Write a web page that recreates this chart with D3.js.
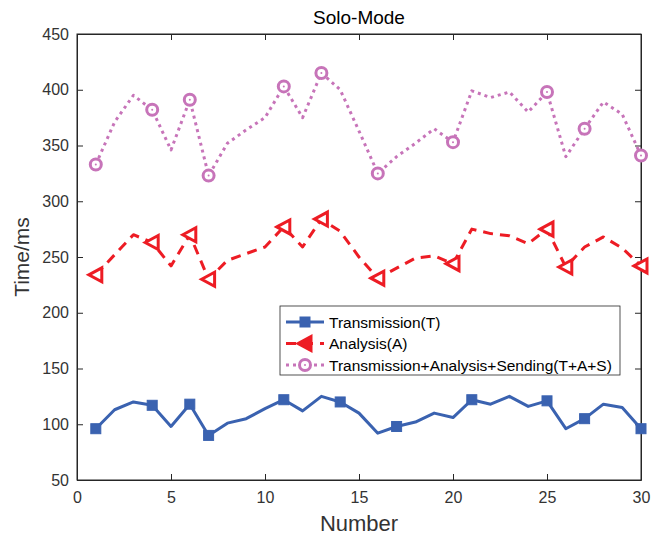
<!DOCTYPE html>
<html>
<head>
<meta charset="utf-8">
<script src="https://cdn.jsdelivr.net/npm/d3@7"></script>
<style>
  body { margin: 0; background: #fff; }
  text { font-family: "Liberation Sans", Arial, sans-serif; }
</style>
</head>
<body>
<svg id="chart" width="657" height="536"></svg>
<script>
// data
var xValues = d3.range(1, 31);
var transmission = [96, 113, 120, 117, 98, 118, 90, 101, 105, 114, 122, 112, 125, 120, 110,
                    92, 98, 102, 110, 106, 122, 118, 125, 116, 121, 96, 105, 118, 115, 96];
var analysis = [234, 252, 270, 263, 242, 270, 230, 247, 253, 259, 277, 259, 284, 273, 250,
                231, 240, 249, 251, 244, 275, 271, 269, 262, 275, 241, 259, 268, 258, 242];
var total = [333, 371, 395, 382, 346, 391, 323, 352, 364, 375, 403, 375, 415, 400, 363,
             325, 340, 352, 365, 353, 399, 393, 398, 380, 398, 340, 365, 389, 378, 341];
var markersT = [1, 4, 6, 7, 11, 14, 17, 21, 25, 27, 30];
var markersA = [1, 4, 6, 7, 11, 13, 16, 20, 25, 26, 30];
var markersS = [1, 4, 6, 7, 11, 13, 16, 20, 25, 27, 30];
var yTicks = [50, 100, 150, 200, 250, 300, 350, 400, 450];
var xTicks = [0, 5, 10, 15, 20, 25, 30];
var legendLabels = ['Transmission(T)', 'Analysis(A)', 'Transmission+Analysis+Sending(T+A+S)'];

var blue = '#3a62b0', red = '#ed1c24', purple = '#c774b9';

var margin = {left: 77, right: 16, top: 34, bottom: 56},
    W = 657, H = 536;

var svg = d3.select('#chart');

var x = d3.scaleLinear().domain([0, 30]).range([margin.left, W - margin.right]);
var y = d3.scaleLinear().domain([50, 450]).range([H - margin.bottom, margin.top]);

// box
svg.append('rect')
   .attr('x', x(0)).attr('y', y(450))
   .attr('width', x(30) - x(0)).attr('height', y(50) - y(450))
   .style('fill', 'none').style('stroke', '#262626').style('stroke-width', 1);

// axes
var xAxis = svg.append('g').attr('transform', 'translate(0,' + y(50) + ')')
   .call(d3.axisBottom(x).tickValues(xTicks).tickSize(-6).tickSizeOuter(0).tickPadding(12));
var xTop = svg.append('g').attr('transform', 'translate(0,' + y(450) + ')')
   .call(d3.axisTop(x).tickValues(xTicks).tickSize(-6).tickSizeOuter(0).tickFormat(''));
var yAxis = svg.append('g').attr('transform', 'translate(' + x(0) + ',0)')
   .call(d3.axisLeft(y).tickValues(yTicks).tickSize(-6).tickSizeOuter(0).tickPadding(8));
var yRight = svg.append('g').attr('transform', 'translate(' + x(30) + ',0)')
   .call(d3.axisRight(y).tickValues(yTicks).tickSize(-6).tickSizeOuter(0).tickFormat(''));

[xAxis, xTop, yAxis, yRight].forEach(function(a){
    a.select('.domain').style('stroke', '#262626');
    a.selectAll('.tick line').style('stroke', '#262626');
    a.selectAll('.tick text').style('font-size', '16px').style('fill', '#333')
     .style('font-family', '"Liberation Sans", Arial, sans-serif');
});

// titles
svg.append('text').attr('x', (x(0) + x(30)) / 2).attr('y', 24)
   .attr('text-anchor', 'middle').style('font-size', '19px').style('fill', '#000').text('Solo-Mode');
svg.append('text').attr('x', (x(0) + x(30)) / 2).attr('y', 531)
   .attr('text-anchor', 'middle').style('font-size', '22px').style('fill', '#333').text('Number');
svg.append('text').attr('transform', 'translate(29,' + ((y(50) + y(450)) / 2) + ') rotate(-90)')
   .attr('text-anchor', 'middle').style('font-size', '21px').style('fill', '#333').text('Time/ms');

var line = d3.line().x(function(d){ return x(d[0]); }).y(function(d){ return y(d[1]); });
var zip = function(vals){ return xValues.map(function(v, i){ return [v, vals[i]]; }); };

var series = [
    {vals: transmission, color: blue, dash: null, marks: markersT, shape: 'square'},
    {vals: analysis, color: red, dash: '10,7', marks: markersA, shape: 'triangle'},
    {vals: total, color: purple, dash: '3,4', marks: markersS, shape: 'circle'}
];

var drawMarker = function(g, shape, color){
    if (shape === 'square') {
        g.append('rect').attr('x', -5).attr('y', -5).attr('width', 10).attr('height', 10)
         .style('fill', color).style('stroke', color).style('stroke-width', 1);
    } else if (shape === 'triangle') {
        g.append('path').attr('d', 'M-7,0L6,-7L6,7Z')
         .style('fill', '#fff').style('stroke', color).style('stroke-width', 3)
         .style('stroke-linejoin', 'miter');
    } else {
        g.append('circle').attr('r', 5.5)
         .style('fill', '#fff').style('stroke', color).style('stroke-width', 3);
        g.append('circle').attr('r', 1).style('fill', color);
    }
};

series.forEach(function(s){
    svg.append('path').datum(zip(s.vals)).attr('d', line)
       .style('fill', 'none').style('stroke', s.color).style('stroke-width', 3)
       .style('stroke-dasharray', s.dash).style('stroke-linejoin', 'round');
    s.marks.forEach(function(m){
        var g = svg.append('g').attr('transform', 'translate(' + x(m) + ',' + y(s.vals[m - 1]) + ')');
        drawMarker(g, s.shape, s.color);
    });
});

// legend
var legend = svg.append('g').attr('transform', 'translate(280,306)');
legend.append('rect').attr('width', 340).attr('height', 69)
      .style('fill', '#fff').style('stroke', '#262626').style('stroke-width', 0.8);
series.forEach(function(s, i){
    var row = legend.append('g').attr('transform', 'translate(0,' + (16 + i * 21.5) + ')');
    row.append('line').attr('x1', 6).attr('x2', 44).attr('y1', 0).attr('y2', 0)
       .style('stroke', s.color).style('stroke-width', 3).style('stroke-dasharray', s.dash);
    var m = row.append('g').attr('transform', 'translate(25,0)');
    drawMarker(m, s.shape, s.color);
    if (s.shape === 'triangle') m.select('path').style('fill', s.color);
    row.append('text').attr('x', 49).attr('y', 5.5).style('font-size', '15.5px').style('fill', '#000')
       .text(legendLabels[i]);
});
</script>
</body>
</html>
